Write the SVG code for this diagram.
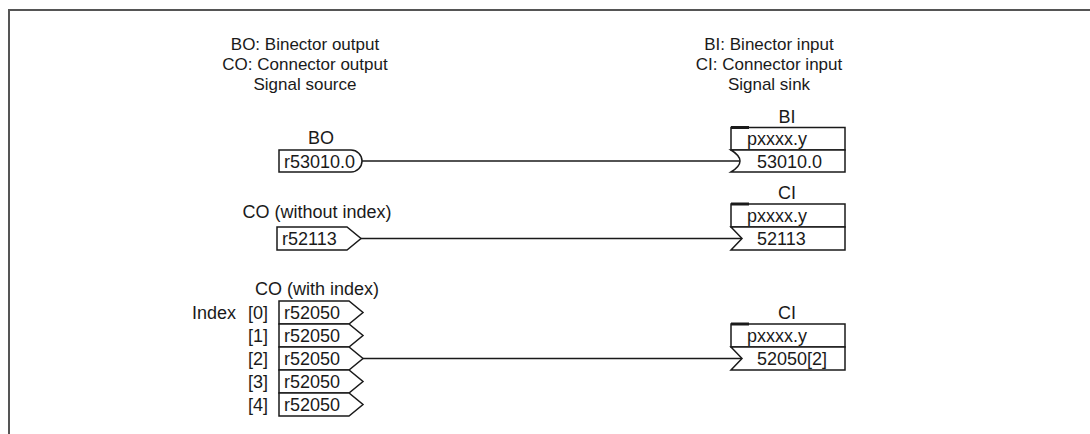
<svg xmlns="http://www.w3.org/2000/svg" width="1090" height="434" viewBox="0 0 1090 434">
<style>
text{font-family:"Liberation Sans",Arial,sans-serif;fill:#1a1a1a}
.h{font-size:17px;text-anchor:middle}
.l{font-size:18px}
.c{text-anchor:middle}
.e{text-anchor:end}
.box{fill:#fff;stroke:#1a1a1a;stroke-width:1.5}
.wire{fill:none;stroke:#1a1a1a;stroke-width:1.4}
.thick{stroke:#1a1a1a;stroke-width:3}
</style>
<rect x="0" y="0" width="1090" height="434" fill="#fff"/>
<path d="M9,434 V10 H1090" fill="none" stroke="#555" stroke-width="2"/>
<g id="header-left">
<text class="h" x="305" y="50">BO: Binector output</text>
<text class="h" x="305" y="70">CO: Connector output</text>
<text class="h" x="305" y="90">Signal source</text>
</g>
<g id="header-right">
<text class="h" x="769" y="50">BI: Binector input</text>
<text class="h" x="769" y="70">CI: Connector input</text>
<text class="h" x="769" y="90">Signal sink</text>
</g>
<g id="connectors">
<line class="wire" x1="362" y1="161" x2="740" y2="161"/>
<line class="wire" x1="361" y1="238.5" x2="742" y2="238.5"/>
<line class="wire" x1="363" y1="358.5" x2="742" y2="358.5"/>
</g>
<g id="bo">
<text class="l c" x="321" y="144">BO</text>
<path class="box" d="M279,150 H351 A11,11 0 0 1 351,172 H279 Z"/>
<text class="l" x="284" y="167.5">r53010.0</text>
</g>
<g id="co-noindex">
<text class="l c" x="317" y="218">CO (without index)</text>
<path class="box" d="M277,227 H347 L361,238.5 L347,250 H277 Z"/>
<text class="l" x="282" y="245">r52113</text>
</g>
<g id="co-index">
<text class="l c" x="317" y="295">CO (with index)</text>
<text class="l" x="192" y="319">Index</text>
<text class="l e" x="268" y="319">[0]</text>
<text class="l e" x="268" y="342">[1]</text>
<text class="l e" x="268" y="365">[2]</text>
<text class="l e" x="268" y="388">[3]</text>
<text class="l e" x="268" y="411">[4]</text>
<path class="box" d="M279,301 H349 L363,312.5 L349,324 H279 Z"/>
<path class="box" d="M279,324 H349 L363,335.5 L349,347 H279 Z"/>
<path class="box" d="M279,347 H349 L363,358.5 L349,370 H279 Z"/>
<path class="box" d="M279,370 H349 L363,381.5 L349,393 H279 Z"/>
<path class="box" d="M279,393 H349 L363,404.5 L349,416 H279 Z"/>
<text class="l" x="284" y="319">r52050</text>
<text class="l" x="284" y="342">r52050</text>
<text class="l" x="284" y="365">r52050</text>
<text class="l" x="284" y="388">r52050</text>
<text class="l" x="284" y="411">r52050</text>
</g>
<g id="bi">
<text class="l c" x="787" y="123">BI</text>
<rect class="box" x="731" y="127.5" width="114" height="22.5"/>
<line class="thick" x1="731" y1="127.5" x2="749" y2="127.5"/>
<path class="box" d="M731,150 H845 V172 H731 Q749,161 731,150 Z"/>
<text class="l" x="747" y="145">pxxxx.y</text>
<text class="l" x="757" y="167.5">53010.0</text>
</g>
<g id="ci1">
<text class="l c" x="787" y="199">CI</text>
<rect class="box" x="731" y="204" width="114" height="23"/>
<line class="thick" x1="731" y1="204" x2="749" y2="204"/>
<path class="box" d="M731,227 H845 V250 H731 L742,238.5 Z"/>
<text class="l" x="747" y="222">pxxxx.y</text>
<text class="l" x="757" y="245">52113</text>
</g>
<g id="ci2">
<text class="l c" x="787" y="319">CI</text>
<rect class="box" x="731" y="324" width="114" height="23"/>
<line class="thick" x1="731" y1="324" x2="749" y2="324"/>
<path class="box" d="M731,347 H845 V370 H731 L742,358.5 Z"/>
<text class="l" x="747" y="342">pxxxx.y</text>
<text class="l" x="757" y="365">52050[2]</text>
</g>
</svg>
